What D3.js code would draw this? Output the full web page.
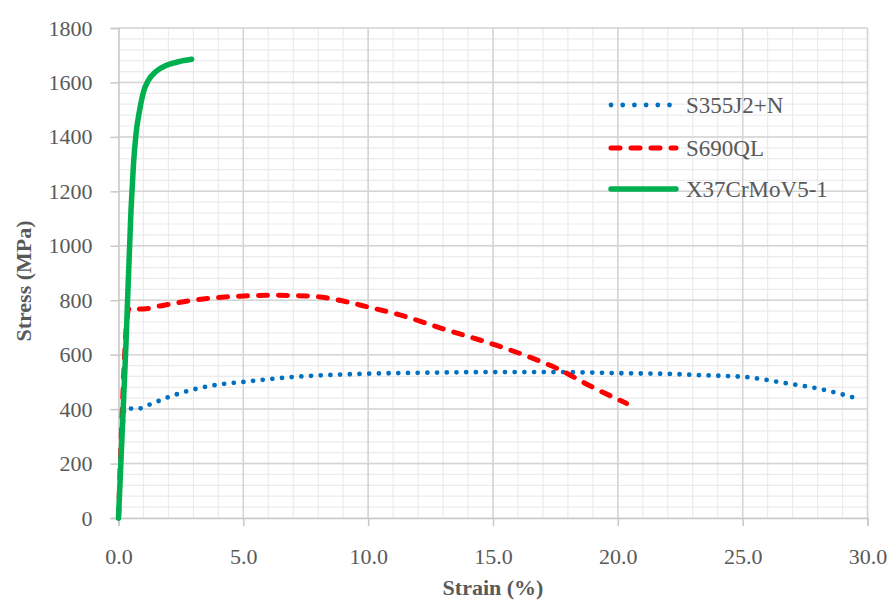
<!DOCTYPE html>
<html><head><meta charset="utf-8">
<script src="https://cdn.jsdelivr.net/npm/d3@7"></script>
<style>body{margin:0;background:#fff;} svg{display:block;}</style>
</head><body>
<svg id="chart" width="891" height="600"></svg>
<script>
const seriesNames = ["S355J2+N", "S690QL", "X37CrMoV5-1"];
const seriesColors = ["#0070c0", "#ff0000", "#00b050"];
const s355Strain = [0, 0.26, 0.73, 1.2, 2.06, 3, 4, 5, 7, 10, 12.5, 15, 17.5, 20, 22.5, 23.2, 25.1, 26.6, 28.1, 29.7];
const s355Stress = [0, 404, 400, 415, 446, 472, 490, 500, 518, 530, 534, 536, 536, 532, 528, 525, 518, 497, 474, 436];
const s690Strain = [0, 0.42, 1.0, 1.66, 3, 4.87, 6.2, 7.67, 9, 10, 11.27, 13, 15.08, 16.5, 17.55, 19, 20.35];
const s690Stress = [0, 768, 768, 779, 800, 815, 818, 815, 797, 775, 746, 695, 636, 590, 550, 480, 421];
const x37Strain = [0, 0.3, 0.5, 0.6, 0.7, 0.85, 1.0, 1.2, 1.5, 1.9, 2.4, 2.93];
const x37Stress = [0, 640, 1130, 1300, 1410, 1500, 1565, 1608, 1640, 1662, 1676, 1685];
const xTicks = [0, 5, 10, 15, 20, 25, 30];
const yTicks = [0, 200, 400, 600, 800, 1000, 1200, 1400, 1600, 1800];
const xMinor = d3.range(0, 31, 1);
const yMinor = d3.range(0, 1801, 40);

const svg = d3.select("#chart");
const L = 118.5, R = 867.5, T = 28, B = 518;
const x = d3.scaleLinear().domain([0, 30]).range([L, R]);
const y = d3.scaleLinear().domain([0, 1800]).range([B, T]);
const font = "'Palatino Linotype','Book Antiqua',Palatino,'Liberation Serif',serif";
const txt = "#595959";

// minor grid
svg.append("g").selectAll("line").data(xMinor).join("line")
  .attr("x1", d => x(d)).attr("x2", d => x(d)).attr("y1", T).attr("y2", B)
  .attr("stroke", "#ebebeb").attr("stroke-width", 1.2);
svg.append("g").selectAll("line").data(yMinor).join("line")
  .attr("x1", L).attr("x2", R).attr("y1", d => y(d)).attr("y2", d => y(d))
  .attr("stroke", "#ebebeb").attr("stroke-width", 1.2);
// major grid
svg.append("g").selectAll("line").data(xTicks.slice(1)).join("line")
  .attr("x1", d => x(d)).attr("x2", d => x(d)).attr("y1", T).attr("y2", B)
  .attr("stroke", "#d4d4d4").attr("stroke-width", 1.5);
svg.append("g").selectAll("line").data(yTicks.slice(1)).join("line")
  .attr("x1", L).attr("x2", R).attr("y1", d => y(d)).attr("y2", d => y(d))
  .attr("stroke", "#d4d4d4").attr("stroke-width", 1.5);

// axes
const xAxis = svg.append("g").attr("transform", `translate(0,${B})`)
  .call(d3.axisBottom(x).tickValues(xTicks).tickFormat(d3.format(".1f")).tickSize(8).tickPadding(18));
const yAxis = svg.append("g").attr("transform", `translate(${L},0)`)
  .call(d3.axisLeft(y).tickValues(yTicks).tickFormat(d3.format("d")).tickSize(8).tickPadding(18));
[xAxis, yAxis].forEach(a => {
  a.select(".domain").attr("stroke", "#c8c8c8").attr("stroke-width", 1.5);
  a.selectAll(".tick line").attr("stroke", "#c8c8c8").attr("stroke-width", 1.5);
  a.selectAll("text").attr("fill", txt).style("font-family", font).style("font-size", "22px");
});
xAxis.selectAll("text").attr("dy", "0.9em");

// titles
svg.append("text").attr("x", 493).attr("y", 595).attr("text-anchor", "middle")
  .attr("fill", txt).style("font-family", font).style("font-size", "22px").style("font-weight", "bold")
  .text("Strain (%)");
svg.append("text").attr("transform", "translate(31,281) rotate(-90)").attr("text-anchor", "middle")
  .attr("fill", txt).style("font-family", font).style("font-size", "22px").style("font-weight", "bold")
  .text("Stress (MPa)");

// series
const series = [
  {strain: s355Strain, stress: s355Stress, dash: "0 9.7", width: 4.8},
  {strain: s690Strain, stress: s690Stress, dash: "9 11", width: 5},
  {strain: x37Strain, stress: x37Stress, dash: null, width: 5.5}
];
const line = d3.line().x(d => x(d[0])).y(d => y(d[1])).curve(d3.curveMonotoneX);
series.forEach((s, i) => {
  const pts = s.strain.map((v, j) => [v, s.stress[j]]);
  svg.append("path").datum(pts).attr("d", line).attr("fill", "none")
    .attr("stroke", seriesColors[i]).attr("stroke-width", s.width)
    .attr("stroke-linecap", "round").attr("stroke-linejoin", "round")
    .attr("stroke-dasharray", s.dash);
});

// legend
const legY = [105, 148, 189];
seriesNames.forEach((n, i) => {
  svg.append("line").attr("x1", 611).attr("x2", 676).attr("y1", legY[i]).attr("y2", legY[i])
    .attr("stroke", seriesColors[i]).attr("stroke-width", series[i].width)
    .attr("stroke-linecap", "round").attr("stroke-dasharray", i === 0 ? "0 11.7" : series[i].dash);
  svg.append("text").attr("x", 686).attr("y", legY[i] + 8).attr("fill", txt)
    .style("font-family", font).style("font-size", "23px").text(n);
});
</script>
</body></html>
